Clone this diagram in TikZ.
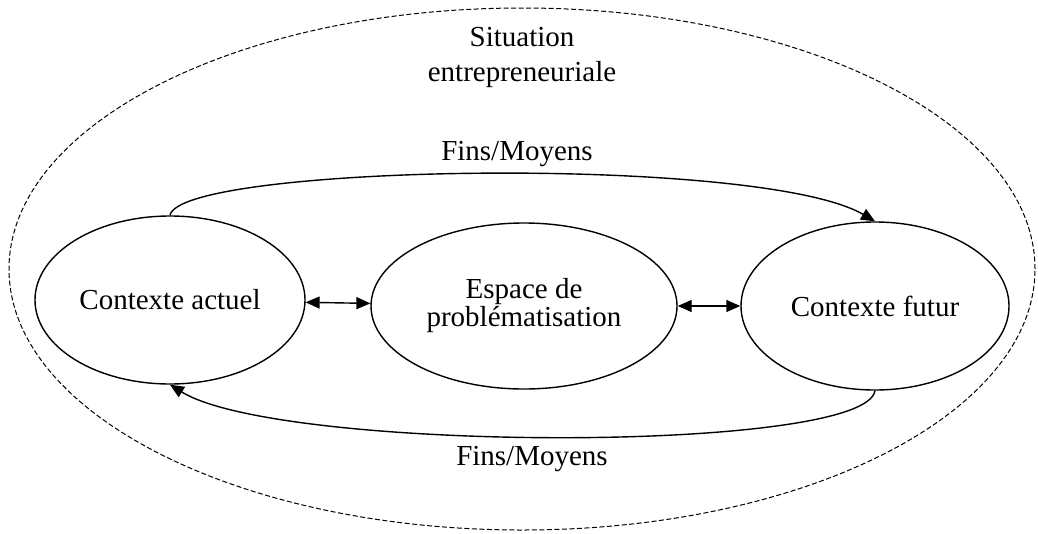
\documentclass[tikz,border=0pt]{standalone}
\usepackage{fontspec}
\setmainfont{Liberation Serif}
\usetikzlibrary{shapes.geometric, arrows.meta, positioning}
\usepackage{xcolor}
\definecolor{linedark}{RGB}{0, 0, 0}
\definecolor{pagebg}{RGB}{255, 255, 255}

\begin{document}
\begin{tikzpicture}[
    x=1pt, y=-1pt,
    contexte/.style={ellipse, draw=linedark, inner sep=0pt, align=center, font=\fontsize{29}{28}\selectfont, line width=1.4pt},
    legende/.style={font=\fontsize{29}{35}\selectfont, color=linedark, align=center},
    arrow/.style={-{Triangle[length=14pt, width=12pt]}, line width=1.4pt, color=linedark},
    duo/.style={{Triangle[length=14pt, width=12pt]}-{Triangle[length=14pt, width=12pt]}, line width=1.4pt, color=linedark},
]

\useasboundingbox[fill=pagebg] (0,0) rectangle (1038,533);

% Situation
\node[ellipse, draw=linedark, dash pattern=on 5pt off 2.5pt, line width=1pt, minimum width=1026pt, minimum height=522pt] (situation) at (522, 269) {};
\node[legende] (titre) at (522, 57) {Situation\\entrepreneuriale};

% Contextes
\node[contexte, minimum width=270pt, minimum height=168pt] (actuel) at (170, 300) {Contexte actuel};
\node[contexte, minimum width=306pt, minimum height=166pt] (espace) at (524, 306) {Espace de\\problématisation};
\node[contexte, minimum width=268pt, minimum height=168pt] (futur) at (875, 306) {Contexte futur};

\draw[duo] (actuel) -- (espace);
\draw[duo] (espace) -- (futur);

% Fins/Moyens
\draw[arrow] (actuel.north) .. controls +(10,-51) and +(-115,-67) .. (futur.north);
\draw[arrow] (futur.south) .. controls +(-10,63) and +(110,68) .. (actuel.south);

\node[legende, anchor=base] (finshaut) at (517, 160) {Fins/Moyens};
\node[legende, anchor=base] (finsbas) at (532, 465) {Fins/Moyens};

\end{tikzpicture}
\end{document}
